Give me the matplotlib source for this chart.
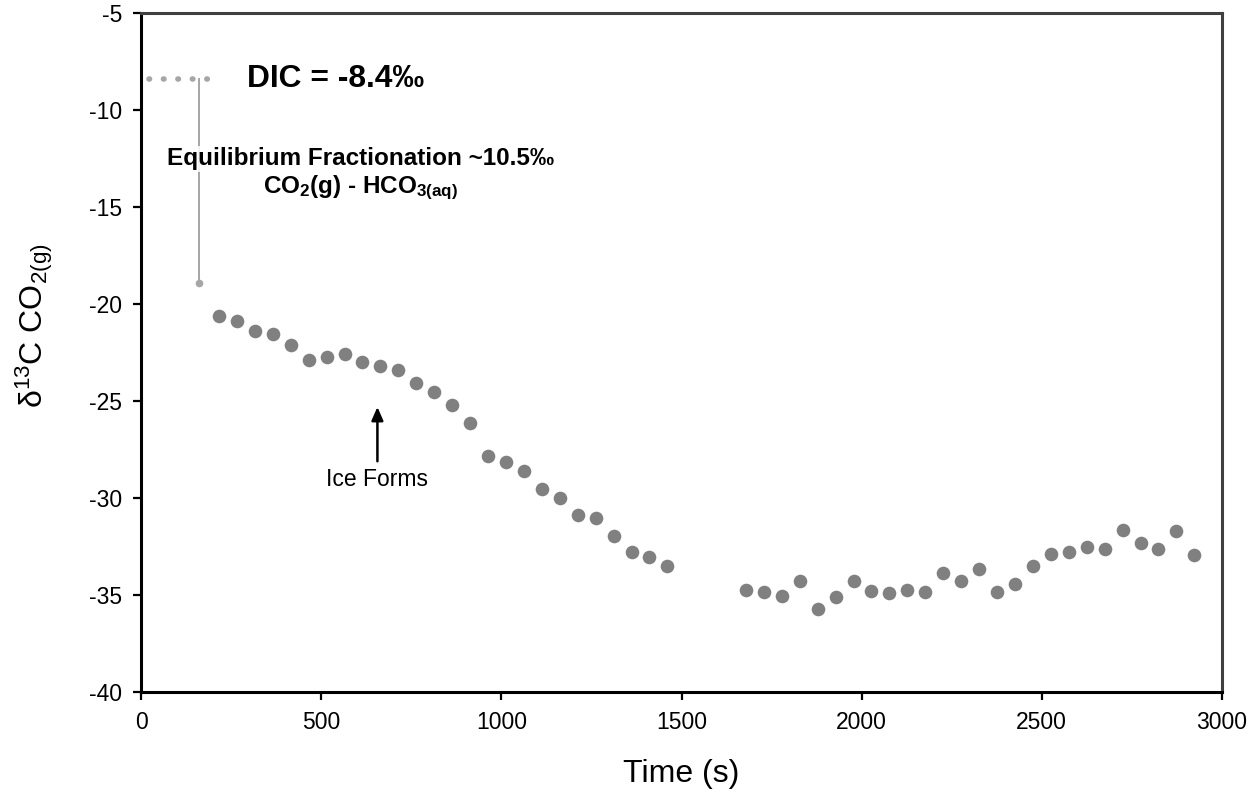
import matplotlib
matplotlib.use("Agg")
import matplotlib.pyplot as plt

plt.rcParams['font.family'] = ['Liberation Sans', 'DejaVu Sans']
plt.rcParams['mathtext.fontset'] = 'custom'
plt.rcParams['mathtext.rm'] = 'Liberation Sans'
plt.rcParams['mathtext.it'] = 'Liberation Sans:italic'
plt.rcParams['mathtext.bf'] = 'Liberation Sans:bold'
plt.rcParams['axes.unicode_minus'] = False

# data
time_s = [216, 266, 316, 366, 416, 466, 515, 565, 614, 664, 714, 763, 814, 864, 914,
          963, 1013, 1063, 1113, 1162, 1213, 1262, 1312, 1362, 1411, 1460,
          1679, 1729, 1778, 1829, 1878, 1928, 1978, 2027, 2077, 2126, 2176, 2227,
          2276, 2326, 2376, 2425, 2475, 2526, 2575, 2625, 2674, 2724, 2774, 2823,
          2873, 2923]
d13c = [-20.59, -20.87, -21.37, -21.54, -22.10, -22.88, -22.71, -22.58, -23.00, -23.17,
        -23.38, -24.08, -24.53, -25.21, -26.13,
        -27.81, -28.12, -28.59, -29.53, -30.00, -30.87, -31.03, -31.94, -32.80, -33.02, -33.49,
        -34.72, -34.86, -35.05, -34.26, -35.70, -35.08, -34.28, -34.81, -34.88, -34.74,
        -34.83, -33.86, -34.26, -33.67, -34.82, -34.45, -33.52, -32.87, -32.80, -32.54,
        -32.64, -31.63, -32.30, -32.64, -31.68, -32.93]

dic_value = -8.4
fractionation = 10.5
eq_time = 161
dic_line_x = [22, 222]
ice_time = 656

fig = plt.figure(figsize=(12.56, 7.94), dpi=100)
ax = fig.add_axes([0.1123, 0.1285, 0.8606, 0.8546])

# DIC dotted line + fractionation bar
ax.plot(dic_line_x, [dic_value, dic_value], color='#a6a6a6', lw=4.0,
        linestyle=(0, (0.1, 2.5)), dash_capstyle='round', zorder=2)
ax.plot([eq_time, eq_time], [dic_value, dic_value - fractionation], color='#a6a6a6',
        lw=1.4, zorder=2)
ax.plot([eq_time], [dic_value - fractionation], 'o', color='#a6a6a6', ms=4.5, zorder=3)

ax.plot(time_s, d13c, 'o', color='#808080', ms=9.8, mec='none', zorder=4)

ax.text(294, dic_value, 'DIC = -8.4‰', fontsize=22.9, fontweight='bold',
        ha='left', va='center')
ax.text(609, -12.5, 'Equilibrium Fractionation ~10.5‰', fontsize=17.5, fontweight='bold',
        ha='center', va='center', zorder=3,
        bbox=dict(facecolor='white', edgecolor='none', alpha=0.85, pad=1))
ax.text(609, -14.0, r'$\mathbf{CO_2(g)}$ - $\mathbf{HCO_{3(aq)}}$', fontsize=17.5,
        fontweight='bold', ha='center', va='center', zorder=3,
        bbox=dict(facecolor='white', edgecolor='none', alpha=0.85, pad=1))

ax.annotate('', xy=(ice_time, -25.3), xytext=(ice_time, -28.1),
            arrowprops=dict(arrowstyle='-|>,head_width=0.35,head_length=0.8',
                            color='black', lw=1.8, shrinkA=0, shrinkB=0))
ax.text(ice_time, -29.05, 'Ice Forms', fontsize=16.5, ha='center', va='center')

ax.set_xlim(0, 3000)
ax.set_ylim(-40, -5)
ax.set_xticks(range(0, 3001, 500))
ax.set_yticks(range(-40, -4, 5))
ax.tick_params(direction='out', length=5.5, width=1.6, labelsize=16.5, pad=8)
for s in ax.spines.values():
    s.set_linewidth(2.2)
    s.set_color('black')
ax.spines['right'].set_color('#404040')
ax.spines['top'].set_color('#404040')

ax.set_xlabel('Time (s)', fontsize=23, labelpad=18)
ax.set_ylabel(r'δ$^{13}$C CO$_{2(\mathrm{g})}$', fontsize=23)
ax.yaxis.set_label_coords(-0.080, 0.54)

fig.savefig('out.png', dpi=100)
